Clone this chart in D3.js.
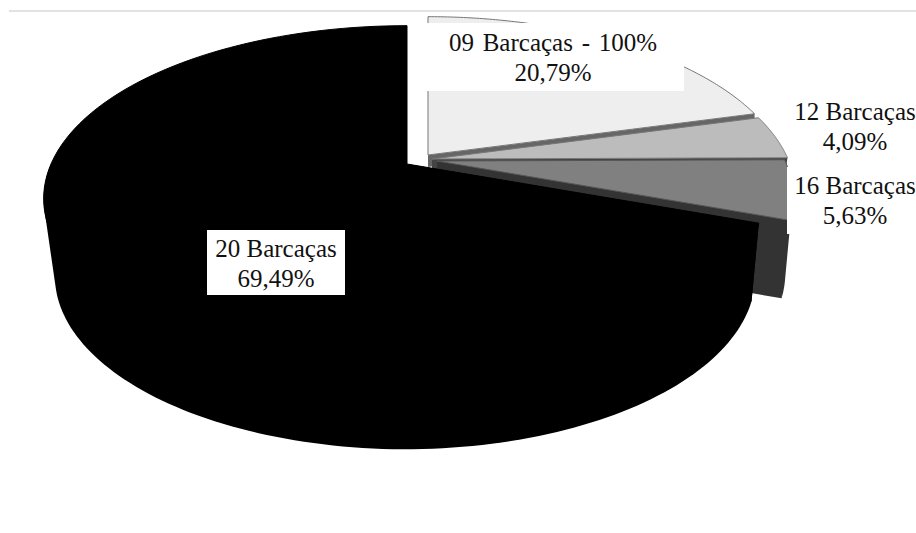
<!DOCTYPE html>
<html lang="pt">
<head>
<meta charset="utf-8">
<script src="https://cdn.jsdelivr.net/npm/d3@7"></script>
<style>
  html, body { margin: 0; background: #fff; }
  svg { display: block; }
  text { font-family: "Liberation Serif", serif; font-size: 25px; fill: #111; text-anchor: middle; }
</style>
</head>
<body>
<svg id="chart" width="916" height="533"></svg>
<script>
// Share of each convoy size, clockwise from twelve o'clock
const categories = ["09 Barcaças - 100%", "12 Barcaças", "16 Barcaças", "20 Barcaças"];
const shares = [20.79, 4.09, 5.63, 69.49];

// Appearance of each slice
const topFills = ["#eeeeee", "#bcbcbc", "#808080", "#000000"];
const wallFills = ["#666666", "#444444", "#333333", "#000000"];
const rimStrokes = ["#777777", "#777777", "#555555", "#000000"];

// Where each exploded slice has its apex, and how much its right side is pulled in
const apexX = [428, 432, 437, 407];
const apexY = [155, 159, 161, 164];
const rightTrim = [0, 0, 0.022, 0.022];

// Label placement: centre x, first baseline, backing box [x, y, w, h] when present
const labelX = [553, 855, 855, 276];
const labelY = [51, 120, 194, 257];
const labelBoxes = [[420, 23, 264, 68], null, [787, 167, 129, 67], [207, 230, 138, 65]];
const labelWordSpacing = [2.5, 0, 0, 0];

// Perspective disc: radius, squash, foreshortening, and the drop and scale of the floor
const radius = 356, squash = 166, persp = 0.2, depth = 77.4, floorScaleX = 0.969, floorScaleY = 1.002;

const svg = d3.select("#chart");
const fmt = d3.formatLocale({ decimal: ",", thousands: ".", grouping: [3], currency: ["", ""] }).format(".2f");
const arcs = d3.pie().sort(null).value(d => d)(shares);
const line = d3.line();

// Projects a disc point at clockwise angle a onto the page, on the top face or the floor
function project(i, a, r, floor) {
  const u = r * Math.sin(a), v = r * Math.cos(a), w = 1 + persp * v;
  const trim = 1 - (floor ? 0.5 : 1) * rightTrim[i] * Math.max(0, u);
  return [
    apexX[i] + (floor ? floorScaleX : 1) * trim * radius * u / w,
    apexY[i] - (floor ? floorScaleY : 1) * trim * squash * v / w + (floor ? depth : 0)
  ];
}
const rimPoints = (i, a0, a1, floor) =>
  d3.range(0, 121).map(k => project(i, a0 + (a1 - a0) * k / 120, 1, floor));

// Top line above the plot
svg.append("line").attr("x1", 9).attr("x2", 916).attr("y1", 11).attr("y2", 11)
  .attr("stroke", "#e2e2e2").attr("stroke-width", 2);

arcs.forEach((d, i) => {
  const g = svg.append("g");
  const a0 = d.startAngle, a1 = d.endAngle;

  // Outer wall where the rim faces the viewer, as the hull of its top and floor edges
  const wallFrom = Math.max(a0, Math.PI / 2), wallTo = Math.min(a1, Math.PI * 1.5);
  if (wallTo > wallFrom) {
    const hull = d3.polygonHull(rimPoints(i, wallFrom, wallTo, false).concat(rimPoints(i, wallFrom, wallTo, true)));
    g.append("path").attr("d", line(hull) + "Z").attr("fill", wallFills[i]);
  }

  // Radial cut face: the leading side for the last slice, the trailing side for the others
  const a = i === 3 ? a0 : a1;
  const face = [project(i, a, 0, false), project(i, a, 1, false), project(i, a, 1, true), project(i, a, 0, true)];
  if (i === 0) {
    // the first slice only shows a sliver of its cut face, under the next slice
    face[2] = [face[1][0], face[1][1] + 8];
    face[3] = [face[0][0], face[0][1] + 12];
  }
  g.append("path").attr("d", line(face) + "Z").attr("fill", wallFills[i]);

  // Top face
  g.append("path")
    .attr("d", line([project(i, a0, 0, false)].concat(rimPoints(i, a0, a1, false))) + "Z")
    .attr("fill", topFills[i])
    .attr("stroke", rimStrokes[i])
    .attr("stroke-width", 1);
});

// Labels, two lines each, some over a white backing box
labelBoxes.forEach(b => {
  if (b) svg.append("rect").attr("x", b[0]).attr("y", b[1]).attr("width", b[2]).attr("height", b[3]).attr("fill", "#fff");
});
categories.forEach((c, i) => {
  const t = svg.append("text").attr("x", labelX[i]).attr("y", labelY[i]);
  t.append("tspan").attr("x", labelX[i]).attr("word-spacing", labelWordSpacing[i]).text(c);
  t.append("tspan").attr("x", labelX[i]).attr("dy", 29.5).text(fmt(shares[i]) + "%");
});
</script>
</body>
</html>
